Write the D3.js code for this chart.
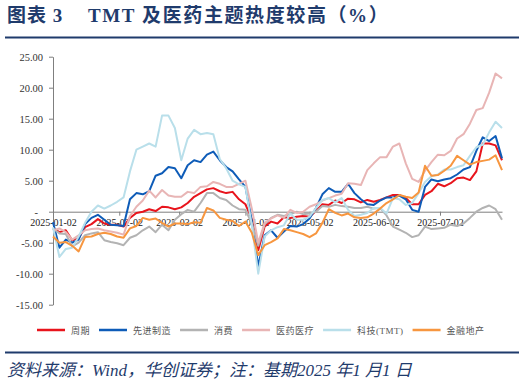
<!DOCTYPE html>
<html><head><meta charset="utf-8">
<script src="https://cdn.jsdelivr.net/npm/d3@7"></script>
<style>body{margin:0;background:#fff;} svg{display:block}</style>
</head><body><svg id="c" width="524" height="383"></svg>
<script>
const dates = ["2025-01-02","2025-01-05","2025-01-08","2025-01-11","2025-01-14","2025-01-17","2025-01-20","2025-01-23","2025-01-26","2025-01-29",
"2025-02-01","2025-02-04","2025-02-07","2025-02-10","2025-02-13","2025-02-16","2025-02-19","2025-02-22","2025-02-25","2025-02-28",
"2025-03-03","2025-03-06","2025-03-09","2025-03-12","2025-03-15","2025-03-18","2025-03-21","2025-03-24","2025-03-27","2025-03-30",
"2025-04-02","2025-04-05","2025-04-08","2025-04-11","2025-04-14","2025-04-17","2025-04-20","2025-04-23","2025-04-26","2025-04-29",
"2025-05-02","2025-05-05","2025-05-08","2025-05-11","2025-05-14","2025-05-17","2025-05-20","2025-05-23","2025-05-26","2025-05-29",
"2025-06-01","2025-06-04","2025-06-07","2025-06-10","2025-06-13","2025-06-16","2025-06-19","2025-06-22","2025-06-25","2025-06-28",
"2025-07-01","2025-07-04","2025-07-07","2025-07-10","2025-07-13","2025-07-16","2025-07-19","2025-07-22","2025-07-25","2025-07-28","2025-07-31"];

const cycle = [-2.7,-3.3,-3.0,-4.6,-4.3,-2.5,-2.0,-1.2,-1.9,-2.1,
-2.1,-2.4,-1.0,-0.2,0.0,0.4,0.1,0.8,0.7,0.4,
0.7,1.4,2.4,3.0,3.6,3.8,3.3,3.0,3.2,2.0,
1.2,-1.2,-6.2,-2.4,-1.6,-1.9,-0.9,-1.0,-0.8,-0.7,
-0.8,0.1,1.2,1.1,1.8,1.4,2.1,2.0,1.5,1.9,
1.6,1.9,2.3,2.7,2.7,2.2,1.2,1.2,2.7,3.3,
4.5,4.1,4.6,5.4,5.5,5.1,6.5,11.0,11.0,10.7,8.3];

const manufacturing = [-1.7,-5.8,-4.5,-5.0,-4.5,-2.0,-1.0,-0.5,-1.3,-2.1,
-2.2,-2.3,2.0,3.0,2.8,3.3,5.8,6.2,7.2,7.0,
5.4,7.5,8.3,8.0,9.2,9.7,8.3,7.2,6.5,5.2,
4.0,-1.5,-8.8,-3.8,-3.0,-4.2,-3.2,-2.3,-2.4,-2.0,
-1.1,0.6,2.8,3.8,3.2,3.2,4.5,3.0,2.0,1.2,
1.1,1.8,2.3,2.3,2.6,2.0,0.3,0.0,4.0,5.2,
4.9,5.2,5.4,6.0,6.8,7.2,9.8,12.0,11.4,12.2,8.6];

const consumption = [-2.7,-3.5,-3.6,-5.6,-5.0,-3.8,-3.5,-3.3,-4.6,-4.9,
-5.1,-5.4,-4.2,-3.8,-3.0,-2.4,-3.3,-2.1,-3.0,-1.3,
-0.4,0.3,0.0,1.4,3.0,3.0,2.2,1.9,1.0,0.4,
0.3,-1.9,-5.5,-2.0,-1.0,-0.5,-0.7,-0.4,0.0,-0.4,
-0.3,0.0,0.9,0.8,1.1,0.9,0.8,0.6,0.6,0.8,
0.5,0.6,-0.6,-2.4,-2.9,-3.4,-4.1,-3.8,-2.4,-2.8,
-2.7,-2.6,-2.1,-2.3,-1.9,-1.0,0.0,0.6,1.0,0.4,-1.3];

const pharma = [-3.0,-2.7,-3.3,-4.5,-3.8,-3.0,-2.8,-2.7,-3.0,-3.2,
-3.4,-3.7,-0.7,0.8,1.8,3.4,2.3,3.5,2.6,2.4,
2.4,3.2,3.0,4.0,4.1,4.8,4.5,4.0,4.0,4.5,
5.0,0.5,-5.0,-1.8,-1.1,-0.6,-1.0,0.3,-0.2,0.0,
0.8,1.2,1.8,2.2,2.6,2.9,4.6,4.5,4.3,6.7,
7.8,8.8,8.8,10.5,11.0,7.8,5.3,4.8,6.6,8.0,
9.2,9.1,9.8,11.8,12.5,14.2,16.4,16.7,19.2,22.3,21.5];

const tmt = [-2.5,-7.3,-6.0,-5.8,-4.0,-1.8,0.0,1.0,0.5,1.0,
1.6,2.3,6.5,10.0,10.5,11.0,10.5,15.5,15.5,13.5,
8.3,11.8,13.2,12.5,12.7,12.5,8.5,7.0,5.0,4.4,
4.0,-2.2,-10.0,-4.0,-3.0,-2.5,-2.2,-0.3,-1.3,-1.3,
-0.8,0.6,1.9,2.2,1.5,2.2,0.3,-0.7,-0.5,-0.2,
0.6,0.6,-0.3,2.2,2.0,1.1,1.4,3.0,4.8,5.7,
6.0,6.8,6.8,7.2,7.5,9.0,10.4,10.8,12.8,14.5,13.5];

const finance = [-4.0,-5.0,-4.9,-5.5,-6.4,-4.1,-4.0,-3.6,-3.4,-3.6,
-4.0,-4.2,-2.7,-2.3,-1.0,-1.3,-1.1,-1.8,-2.4,-1.9,
-1.9,-2.0,-1.7,-1.8,0.6,0.2,-1.0,-1.3,-1.5,-2.3,
-1.6,-3.4,-7.0,-5.4,-4.9,-4.3,-2.8,-3.0,-3.3,-3.6,
-4.1,-3.5,-1.8,0.4,-0.2,-0.6,-0.3,-0.9,-1.0,-0.9,
-0.3,0.5,1.4,2.0,2.7,2.4,2.2,3.1,7.4,5.8,
5.9,6.6,7.4,9.0,8.3,7.6,8.0,8.2,8.4,9.1,6.7];

const seriesNames = ["周期","先进制造","消费","医药医疗","科技(TMT)","金融地产"];
const seriesValues = [cycle, manufacturing, consumption, pharma, tmt, finance];
const seriesColors = ["#e8141c","#0e5cb8","#b3b3b3","#e8b5b5","#b9dfea","#f7963f"];

const yTicks = [25,20,15,10,5,0,-5,-10,-15];
const yTickLabels = ["25.00","20.00","15.00","10.00","5.00","-","-5.00","-10.00","-15.00"];
const xTicks = ["2025-01-02","2025-02-02","2025-03-02","2025-04-02","2025-05-02","2025-06-02","2025-07-02"];

const title1 = "图表 3";
const title2 = "TMT 及医药主题热度较高（%）";
const source = "资料来源：Wind，华创证券；注：基期2025 年1 月1 日";

const parse = d3.timeParse("%Y-%m-%d");
const svg = d3.select("#c");
const navy = "#1f3b6c";

svg.append("rect").attr("width",524).attr("height",383).attr("fill","#fff");

// title
svg.append("text").attr("x",7).attr("y",22).text(title1)
  .attr("font-family","'Liberation Serif','Noto Sans CJK SC',serif").attr("font-weight","bold")
  .attr("font-size",19).attr("letter-spacing",1).attr("fill",navy);
svg.append("text").attr("x",88).attr("y",22).text(title2)
  .attr("font-family","'Liberation Serif','Noto Sans CJK SC',serif").attr("font-weight","bold")
  .attr("font-size",19).attr("letter-spacing",1.6).attr("fill",navy);
svg.append("line").attr("x1",5).attr("x2",519).attr("y1",37.5).attr("y2",37.5)
  .attr("stroke",navy).attr("stroke-width",2);

// scales
const x = d3.scaleTime().domain([parse("2025-01-02"), parse("2025-07-31")]).range([53, 502]);
const y = d3.scaleLinear().domain([-15, 25]).range([304.7, 56.7]);

// y axis
const yAxis = d3.axisLeft(y).tickValues(yTicks)
  .tickFormat((d,i)=>yTickLabels[i]).tickSize(4).tickSizeOuter(0);
const gy = svg.append("g").attr("transform","translate(53,0)").call(yAxis);
gy.select(".domain").attr("stroke","#7f7f7f");
gy.selectAll(".tick line").attr("stroke","#7f7f7f");
gy.selectAll(".tick text").attr("font-family","'Liberation Serif',serif").attr("font-size",10.5)
  .attr("fill","#333").attr("x",-10);
gy.selectAll(".tick text").filter((d)=>d===0).attr("x",-15);

// lines
const lineGen = d3.line().x((d,i)=>x(parse(dates[i]))).y(d=>y(d));
const gl = svg.append("g");

// x axis (zero line) drawn under lines
const xAxis = d3.axisBottom(x).tickValues(xTicks.map(parse))
  .tickFormat((d,i)=>xTicks[i]).tickSize(4).tickSizeOuter(0);
const gx = gl.append("g").attr("transform",`translate(0,${y(0)})`).call(xAxis);
gx.select(".domain").attr("stroke","#7f7f7f");
gx.selectAll(".tick line").attr("stroke","#7f7f7f");
gx.selectAll(".tick text").attr("font-family","'Liberation Serif',serif").attr("font-size",10)
  .attr("fill","#222").attr("dy","0.6em").attr("y",8);

seriesValues.forEach((vals, si)=>{
  gl.append("path").datum(vals).attr("d", lineGen)
    .attr("fill","none").attr("stroke",seriesColors[si]).attr("stroke-width",2)
    .attr("stroke-linejoin","round");
});

// legend
const lg = svg.append("g");
let cx = 37;
seriesNames.forEach((name, si)=>{
  lg.append("line").attr("x1",cx).attr("x2",cx+28).attr("y1",330).attr("y2",330)
    .attr("stroke",seriesColors[si]).attr("stroke-width",2.5);
  const t = lg.append("text").attr("x",cx+34).attr("y",333.5).text(name)
    .attr("font-family","'Liberation Serif','Noto Sans CJK SC',serif").attr("font-size",9)
    .attr("letter-spacing",0.5).attr("fill","#555");
  cx = cx + 34 + t.node().getComputedTextLength() + 9;
});

// footer
svg.append("line").attr("x1",5).attr("x2",519).attr("y1",352.5).attr("y2",352.5)
  .attr("stroke",navy).attr("stroke-width",2);
svg.append("text").attr("x",7).attr("y",376).text(source)
  .attr("font-family","'Liberation Serif','Noto Sans CJK SC',serif").attr("font-style","italic")
  .attr("font-size",17).attr("fill",navy);
</script>
</body></html>
